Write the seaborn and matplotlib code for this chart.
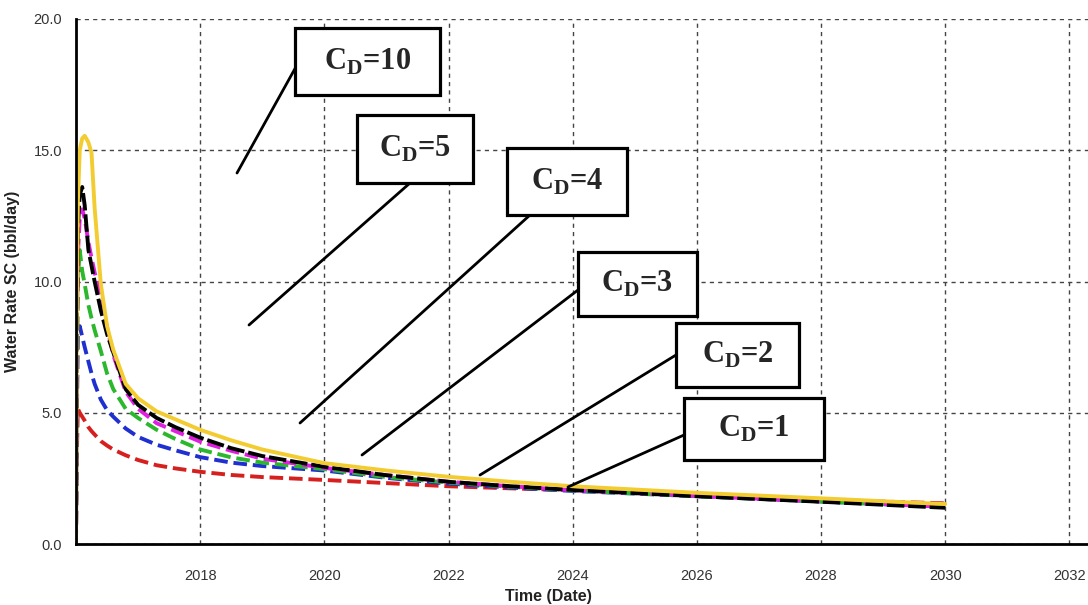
import matplotlib
matplotlib.use("Agg")
import pandas as pd
import matplotlib.pyplot as plt
from matplotlib.patches import Rectangle
from matplotlib.lines import Line2D
import seaborn as sns

# time axis (decimal years) shared by all curves
years = [2016.0, 2016.01, 2016.03, 2016.06, 2016.1, 2016.14, 2016.2, 2016.25, 2016.3,
         2016.4, 2016.5, 2016.6, 2016.8, 2017.0, 2017.3, 2017.6, 2018.0, 2018.5,
         2019.0, 2020.0, 2021.0, 2022.0, 2023.0, 2024.0, 2026.0, 2028.0, 2030.0]

# water rate (bbl/day)
cd1 = [0, 3.0, 5.15, 5.0, 4.85, 4.7, 4.45, 4.3, 4.17, 3.92, 3.75, 3.6, 3.38, 3.2,
       3.0, 2.88, 2.75, 2.63, 2.55, 2.44, 2.32, 2.2, 2.12, 2.05, 1.85, 1.68, 1.55]
cd2 = [0, 4.0, 8.0, 8.3, 7.9, 7.5, 6.95, 6.5, 6.1, 5.5, 5.1, 4.85, 4.4, 4.08,
       3.78, 3.57, 3.31, 3.1, 2.97, 2.8, 2.52, 2.3, 2.15, 2.02, 1.82, 1.62, 1.42]
cd3 = [0, 5.0, 10.0, 11.2, 10.4, 9.9, 9.1, 8.6, 8.15, 7.35, 6.5, 5.9, 5.15, 4.8,
       4.35, 4.0, 3.6, 3.3, 3.1, 2.85, 2.55, 2.34, 2.18, 2.04, 1.82, 1.62, 1.42]
cd4 = [0, 6.0, 11.0, 12.4, 12.75, 12.4, 11.5, 10.9, 10.35, 9.4, 8.25, 7.2, 5.8, 5.15,
       4.6, 4.3, 3.9, 3.55, 3.25, 2.9, 2.62, 2.37, 2.2, 2.05, 1.83, 1.62, 1.42]
cd5 = [0, 7.0, 12.0, 13.3, 13.6, 12.9, 11.2, 10.6, 10.0, 8.9, 8.0, 7.3, 5.9, 5.3,
       4.8, 4.45, 4.05, 3.65, 3.35, 2.94, 2.62, 2.37, 2.2, 2.06, 1.82, 1.61, 1.38]
cd10 = [0, 8.0, 13.0, 15.0, 15.45, 15.55, 15.3, 14.9, 12.8, 9.9, 8.3, 7.4, 6.1, 5.55,
        5.05, 4.75, 4.35, 3.95, 3.6, 3.08, 2.8, 2.56, 2.37, 2.2, 1.95, 1.74, 1.52]

cases = ["CD=1", "CD=2", "CD=3", "CD=4", "CD=5", "CD=10"]
series = [cd1, cd2, cd3, cd4, cd5, cd10]
colors = ["#d62020", "#1f2fd0", "#2cb82c", "#e020e0", "#000000", "#f2cc30"]
x_ticks = [2018, 2020, 2022, 2024, 2026, 2028, 2030, 2032]
y_ticks = [0, 5, 10, 15, 20]

df = pd.concat([pd.DataFrame({"year": years, "rate": v, "case": c})
                for c, v in zip(cases, series)], ignore_index=True)

sns.set_style("white")
plt.rcParams["font.family"] = ["Liberation Sans", "DejaVu Sans"]
plt.rcParams["mathtext.fontset"] = "custom"
plt.rcParams["mathtext.rm"] = "Liberation Serif:bold"

fig = plt.figure(figsize=(10.88, 6.05), dpi=100)
ax = fig.add_axes([76 / 1088, 61 / 605, 1 - 76 / 1088, 525 / 605])

dashes = {"CD=1": (3.5, 1.5), "CD=2": (3.5, 1.5), "CD=3": (3.5, 1.5), "CD=4": (3.5, 1.5),
          "CD=5": (4.5, 1.0), "CD=10": ""}
sns.lineplot(data=df, x="year", y="rate", hue="case", style="case",
             hue_order=cases, style_order=cases,
             palette=dict(zip(cases, colors)), dashes=dashes,
             linewidth=2.8, legend=False, ax=ax)

ax.set_xlim(2016.0, 2032.3)
ax.set_ylim(0, 20)
ax.set_xticks(x_ticks)
ax.set_xticklabels([str(t) for t in x_ticks])
ax.set_yticks(y_ticks)
ax.set_yticklabels([f"{t:.1f}" for t in y_ticks])
ax.grid(True, color="#444444", linestyle=(0, (3, 3)), linewidth=1)
for s in ["top", "right"]:
    ax.spines[s].set_visible(False)
for s in ["left", "bottom"]:
    ax.spines[s].set_linewidth(2)
    ax.spines[s].set_color("black")
ax.tick_params(axis="both", direction="out", length=7, width=2, color="black",
               labelsize=10.5, labelcolor="#333333", pad=3)
ax.tick_params(axis="x", length=8, pad=10)

ax.set_xlabel("Time (Date)", fontsize=11.5, fontweight="bold", color="#222222")
ax.xaxis.set_label_coords((548 - 76) / 1012, -0.085)
ax.set_ylabel("Water Rate SC (bbl/day)", fontsize=11.5, fontweight="bold", color="#222222")
ax.yaxis.set_label_coords(-0.055, 0.5)

# callout boxes: (left, top, right, bottom) and leader line, in pixels
callouts = [
    ("C$_\\mathrm{D}$=10", (295, 28, 440, 95), (297, 65, 237, 173)),
    ("C$_\\mathrm{D}$=5", (357, 115, 473, 183), (410, 183, 249, 325)),
    ("C$_\\mathrm{D}$=4", (507, 148, 627, 215), (530, 215, 300, 423)),
    ("C$_\\mathrm{D}$=3", (578, 252, 697, 316), (578, 290, 362, 455)),
    ("C$_\\mathrm{D}$=2", (676, 323, 799, 387), (676, 355, 480, 475)),
    ("C$_\\mathrm{D}$=1", (684, 398, 824, 460), (684, 435, 568, 487)),
]
W, H = 1088, 605
for text, (l, t, r, b), (x0, y0, x1, y1) in callouts:
    fig.add_artist(Line2D([x0 / W, x1 / W], [1 - y0 / H, 1 - y1 / H],
                          transform=fig.transFigure, color="black", lw=2, zorder=5))
    fig.add_artist(Rectangle((l / W, 1 - b / H), (r - l) / W, (b - t) / H,
                             transform=fig.transFigure, facecolor="white",
                             edgecolor="black", lw=2.3, zorder=6))
    fig.text((l + r) / 2 / W, 1 - (t + b) / 2 / H, text, ha="center", va="center",
             fontsize=22, fontfamily="Liberation Serif", fontweight="bold", zorder=7)

fig.savefig("out.png", dpi=100)
